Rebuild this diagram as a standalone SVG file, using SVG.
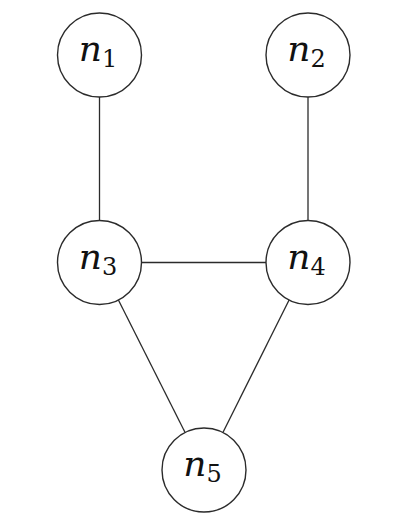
<svg xmlns="http://www.w3.org/2000/svg" width="404" height="531" viewBox="0 0 404 531">
<style>
.node circle { fill: #ffffff; stroke: #2b2b2b; stroke-width: 1.4; }
.edges line { stroke: #2b2b2b; stroke-width: 1.3; }
.lbl { font-family: 'DejaVu Serif', serif; fill: #111111; text-anchor: middle; }
.v { font-style: italic; font-size: 36px; }
.s { font-size: 24px; }
</style>
<rect width="404" height="531" fill="#ffffff"/>
<g id="edges" class="edges">
  <line x1="99.5" y1="97" x2="99.5" y2="220.5"/>
  <line x1="308" y1="97" x2="308" y2="220.5"/>
  <line x1="141.5" y1="262.5" x2="266" y2="262.5"/>
  <line x1="118.4" y1="300" x2="185.1" y2="432.5"/>
  <line x1="289.1" y1="300" x2="222.9" y2="432.5"/>
</g>
<g id="n1" class="node">
  <circle cx="99.5" cy="55" r="42"/>
  <text class="lbl" x="98" y="61"><tspan class="v">n</tspan><tspan class="s" dy="6">1</tspan></text>
</g>
<g id="n2" class="node">
  <circle cx="308" cy="55" r="42"/>
  <text class="lbl" x="306.5" y="61"><tspan class="v">n</tspan><tspan class="s" dy="6">2</tspan></text>
</g>
<g id="n3" class="node">
  <circle cx="99.5" cy="262.5" r="42"/>
  <text class="lbl" x="98" y="268.5"><tspan class="v">n</tspan><tspan class="s" dy="6">3</tspan></text>
</g>
<g id="n4" class="node">
  <circle cx="308" cy="262.5" r="42"/>
  <text class="lbl" x="306.5" y="268.5"><tspan class="v">n</tspan><tspan class="s" dy="6">4</tspan></text>
</g>
<g id="n5" class="node">
  <circle cx="204" cy="470" r="42"/>
  <text class="lbl" x="202.5" y="476"><tspan class="v">n</tspan><tspan class="s" dy="6">5</tspan></text>
</g>
</svg>
